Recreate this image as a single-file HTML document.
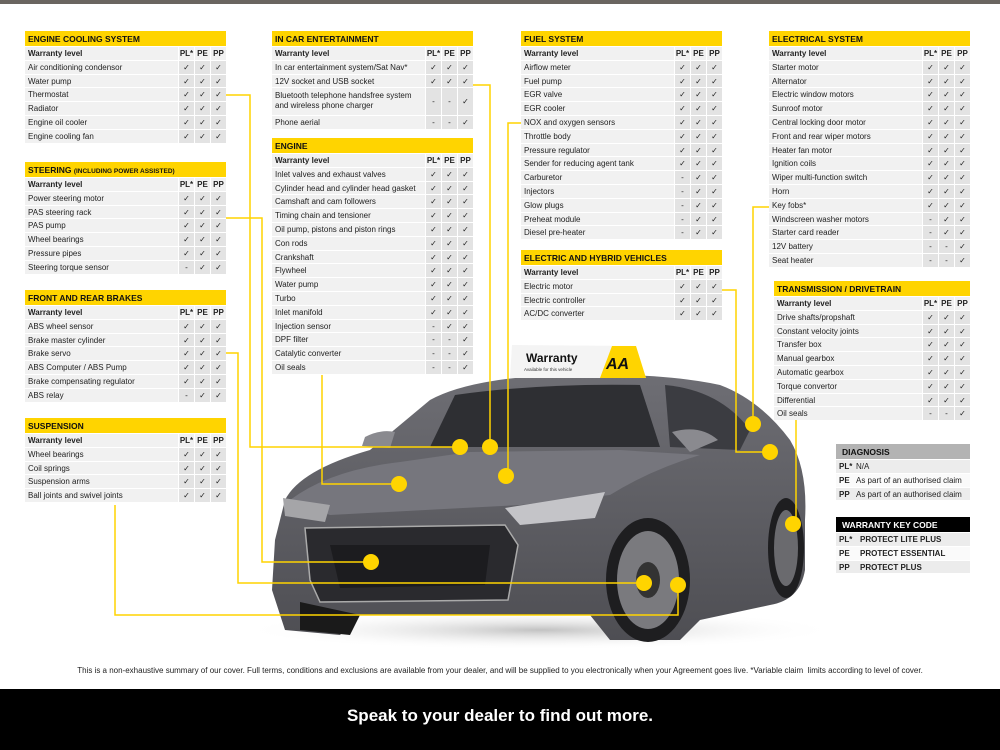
<!DOCTYPE html>
<html><head><meta charset="utf-8"><style>
body{margin:0;width:1000px;height:750px;background:#fff;position:relative;overflow:hidden;font-family:"Liberation Sans",sans-serif}
.t{position:absolute;width:201px;font-size:8px;color:#222}
.h{background:#ffd400;height:15px;font-weight:bold;font-size:8.5px;padding-left:3px;line-height:16px;color:#111}
.r{display:flex;height:12.8px;border-top:1px solid #fff;background:#f1f1f1;line-height:13px}
.r b{flex:1;padding-left:3px;font-weight:normal;white-space:nowrap;overflow:hidden}
.r i{width:15px;text-align:center;background:#e3e3e3;border-left:1px solid #fff;font-style:normal;font-size:8px}
.r.w b,.r.w i{font-weight:bold;background:#f1f1f1}
.r.d{height:26.6px}.r.d b{line-height:10px;padding-top:3px;white-space:normal}.r.d i{line-height:27px}
</style></head><body>
<div style="position:absolute;left:0;top:0;width:1000px;height:4px;background:#6a6560"></div>
<svg style="position:absolute;left:0;top:0" width="1000" height="750">
<defs><radialGradient id="sh" cx="0.5" cy="0.5" r="0.5"><stop offset="0" stop-color="#999" stop-opacity=".6"/><stop offset="1" stop-color="#fff" stop-opacity="0"/></radialGradient>
<linearGradient id="bd" x1="0" y1="0" x2="0" y2="1"><stop offset="0" stop-color="#6e6e74"/><stop offset="1" stop-color="#4e4e53"/></linearGradient></defs>
<ellipse cx="540" cy="630" rx="300" ry="20" fill="url(#sh)"/>
<path d="M285,500 Q300,470 370,450 L430,400 Q470,378 560,375 Q660,372 720,385 Q760,400 790,440 Q808,470 805,520 L805,570 Q800,600 770,605 L700,620 L680,640 L610,640 L590,615 L360,615 L340,635 L285,630 L272,590 L275,540 Z" fill="url(#bd)"/>
<path d="M290,500 Q330,470 400,462 L470,452 L620,450 L700,455 Q650,470 610,495 L520,505 L330,515 Z" fill="#76767d"/>
<path d="M430,447 L455,395 Q540,383 640,385 L660,447 Z" fill="#2e2f33"/>
<path d="M665,385 Q720,390 750,430 L740,450 L670,447Z" fill="#3b3c41"/>
<path d="M305,528 L505,525 L518,545 L508,600 L320,602 L310,580Z" fill="#2a2a2e" stroke="#aaa" stroke-width="1.5"/>
<path d="M330,545 L490,545 L485,585 L340,588Z" fill="#1c1c1f"/>
<path d="M505,508 L605,492 L595,518 L520,525Z" fill="#c4c4c8"/>
<path d="M283,498 L330,505 L325,522 L285,516Z" fill="#a5a5a8"/>
<path d="M365,437 Q380,429 395,432 L390,448 L362,446Z" fill="#8a8a8f"/>
<path d="M672,432 Q700,424 718,440 L690,452Z" fill="#8a8a8f"/>
<ellipse cx="648" cy="580" rx="42" ry="62" fill="#1e1e20"/><ellipse cx="648" cy="580" rx="31" ry="49" fill="#7a7a7e"/><ellipse cx="648" cy="580" rx="12" ry="18" fill="#333"/>
<ellipse cx="786" cy="548" rx="18" ry="50" fill="#1e1e20"/><ellipse cx="786" cy="548" rx="12" ry="38" fill="#6a6a6e"/>
<path d="M300,602 L360,615 L350,635 L300,630Z" fill="#1a1a1a"/>
<polygon points="512,345 636,346 646,378 510,378" fill="#f4f4f4"/>
<polygon points="612,346 636,346 646,378 600,378" fill="#ffd400"/>
<text x="526" y="362" font-size="12" font-weight="bold" fill="#111" font-family="Liberation Sans">Warranty</text>
<text x="524" y="371" font-size="4.5" fill="#333" font-family="Liberation Sans">Available for this vehicle</text>
<text x="606" y="369" font-size="16" font-weight="bold" font-style="italic" fill="#111" font-family="Liberation Sans">AA</text>
<g stroke="#ffd400" stroke-width="1.5" fill="none">
<polyline points="226,95 250,95 250,447 460,447"/>
<polyline points="226,218 262,218 262,562 371,562"/>
<polyline points="226,353 238,353 238,583 644,583"/>
<polyline points="115,505 115,615 678,615 678,585"/>
<polyline points="322,375 322,484 399,484"/>
<polyline points="473,85 490,85 490,447"/>
<polyline points="521,123 508,123 508,476"/>
<polyline points="722,290 736,290 736,452 770,452"/>
<polyline points="769,207 753,207 753,424"/>
<polyline points="796,420 796,530"/>
</g>
<g fill="#ffd400"><circle cx="460" cy="447" r="8"/><circle cx="490" cy="447" r="8"/><circle cx="399" cy="484" r="8"/><circle cx="506" cy="476" r="8"/><circle cx="753" cy="424" r="8"/><circle cx="770" cy="452" r="8"/><circle cx="793" cy="524" r="8"/><circle cx="371" cy="562" r="8"/><circle cx="644" cy="583" r="8"/><circle cx="678" cy="585" r="8"/></g>
</svg>

<div class="t" style="left:25px;top:31px"><div class="h">ENGINE COOLING SYSTEM</div>
<div class="r w"><b>Warranty level</b><i>PL*</i><i>PE</i><i>PP</i></div>
<div class="r"><b>Air conditioning condensor</b><i>✓</i><i>✓</i><i>✓</i></div>
<div class="r"><b>Water pump</b><i>✓</i><i>✓</i><i>✓</i></div>
<div class="r"><b>Thermostat</b><i>✓</i><i>✓</i><i>✓</i></div>
<div class="r"><b>Radiator</b><i>✓</i><i>✓</i><i>✓</i></div>
<div class="r"><b>Engine oil cooler</b><i>✓</i><i>✓</i><i>✓</i></div>
<div class="r"><b>Engine cooling fan</b><i>✓</i><i>✓</i><i>✓</i></div></div>

<div class="t" style="left:25px;top:162px"><div class="h">STEERING <span style="font-size:6.5px">(INCLUDING POWER ASSISTED)</span></div>
<div class="r w"><b>Warranty level</b><i>PL*</i><i>PE</i><i>PP</i></div>
<div class="r"><b>Power steering motor</b><i>✓</i><i>✓</i><i>✓</i></div>
<div class="r"><b>PAS steering rack</b><i>✓</i><i>✓</i><i>✓</i></div>
<div class="r"><b>PAS pump</b><i>✓</i><i>✓</i><i>✓</i></div>
<div class="r"><b>Wheel bearings</b><i>✓</i><i>✓</i><i>✓</i></div>
<div class="r"><b>Pressure pipes</b><i>✓</i><i>✓</i><i>✓</i></div>
<div class="r"><b>Steering torque sensor</b><i>-</i><i>✓</i><i>✓</i></div></div>

<div class="t" style="left:25px;top:290px"><div class="h">FRONT AND REAR BRAKES</div>
<div class="r w"><b>Warranty level</b><i>PL*</i><i>PE</i><i>PP</i></div>
<div class="r"><b>ABS wheel sensor</b><i>✓</i><i>✓</i><i>✓</i></div>
<div class="r"><b>Brake master cylinder</b><i>✓</i><i>✓</i><i>✓</i></div>
<div class="r"><b>Brake servo</b><i>✓</i><i>✓</i><i>✓</i></div>
<div class="r"><b>ABS Computer / ABS Pump</b><i>✓</i><i>✓</i><i>✓</i></div>
<div class="r"><b>Brake compensating regulator</b><i>✓</i><i>✓</i><i>✓</i></div>
<div class="r"><b>ABS relay</b><i>-</i><i>✓</i><i>✓</i></div></div>

<div class="t" style="left:25px;top:418px"><div class="h">SUSPENSION</div>
<div class="r w"><b>Warranty level</b><i>PL*</i><i>PE</i><i>PP</i></div>
<div class="r"><b>Wheel bearings</b><i>✓</i><i>✓</i><i>✓</i></div>
<div class="r"><b>Coil springs</b><i>✓</i><i>✓</i><i>✓</i></div>
<div class="r"><b>Suspension arms</b><i>✓</i><i>✓</i><i>✓</i></div>
<div class="r"><b>Ball joints and swivel joints</b><i>✓</i><i>✓</i><i>✓</i></div></div>

<div class="t" style="left:272px;top:31px"><div class="h">IN CAR ENTERTAINMENT</div>
<div class="r w"><b>Warranty level</b><i>PL*</i><i>PE</i><i>PP</i></div>
<div class="r"><b>In car entertainment system/Sat Nav*</b><i>✓</i><i>✓</i><i>✓</i></div>
<div class="r"><b>12V socket and USB socket</b><i>✓</i><i>✓</i><i>✓</i></div>
<div class="r d"><b>Bluetooth telephone handsfree system and wireless phone charger</b><i>-</i><i>-</i><i>✓</i></div>
<div class="r"><b>Phone aerial</b><i>-</i><i>-</i><i>✓</i></div></div>

<div class="t" style="left:272px;top:138px"><div class="h">ENGINE</div>
<div class="r w"><b>Warranty level</b><i>PL*</i><i>PE</i><i>PP</i></div>
<div class="r"><b>Inlet valves and exhaust valves</b><i>✓</i><i>✓</i><i>✓</i></div>
<div class="r"><b>Cylinder head and cylinder head gasket</b><i>✓</i><i>✓</i><i>✓</i></div>
<div class="r"><b>Camshaft and cam followers</b><i>✓</i><i>✓</i><i>✓</i></div>
<div class="r"><b>Timing chain and tensioner</b><i>✓</i><i>✓</i><i>✓</i></div>
<div class="r"><b>Oil pump, pistons and piston rings</b><i>✓</i><i>✓</i><i>✓</i></div>
<div class="r"><b>Con rods</b><i>✓</i><i>✓</i><i>✓</i></div>
<div class="r"><b>Crankshaft</b><i>✓</i><i>✓</i><i>✓</i></div>
<div class="r"><b>Flywheel</b><i>✓</i><i>✓</i><i>✓</i></div>
<div class="r"><b>Water pump</b><i>✓</i><i>✓</i><i>✓</i></div>
<div class="r"><b>Turbo</b><i>✓</i><i>✓</i><i>✓</i></div>
<div class="r"><b>Inlet manifold</b><i>✓</i><i>✓</i><i>✓</i></div>
<div class="r"><b>Injection sensor</b><i>-</i><i>✓</i><i>✓</i></div>
<div class="r"><b>DPF filter</b><i>-</i><i>-</i><i>✓</i></div>
<div class="r"><b>Catalytic converter</b><i>-</i><i>-</i><i>✓</i></div>
<div class="r"><b>Oil seals</b><i>-</i><i>-</i><i>✓</i></div></div>

<div class="t" style="left:521px;top:31px"><div class="h">FUEL SYSTEM</div>
<div class="r w"><b>Warranty level</b><i>PL*</i><i>PE</i><i>PP</i></div>
<div class="r"><b>Airflow meter</b><i>✓</i><i>✓</i><i>✓</i></div>
<div class="r"><b>Fuel pump</b><i>✓</i><i>✓</i><i>✓</i></div>
<div class="r"><b>EGR valve</b><i>✓</i><i>✓</i><i>✓</i></div>
<div class="r"><b>EGR cooler</b><i>✓</i><i>✓</i><i>✓</i></div>
<div class="r"><b>NOX and oxygen sensors</b><i>✓</i><i>✓</i><i>✓</i></div>
<div class="r"><b>Throttle body</b><i>✓</i><i>✓</i><i>✓</i></div>
<div class="r"><b>Pressure regulator</b><i>✓</i><i>✓</i><i>✓</i></div>
<div class="r"><b>Sender for reducing agent tank</b><i>✓</i><i>✓</i><i>✓</i></div>
<div class="r"><b>Carburetor</b><i>-</i><i>✓</i><i>✓</i></div>
<div class="r"><b>Injectors</b><i>-</i><i>✓</i><i>✓</i></div>
<div class="r"><b>Glow plugs</b><i>-</i><i>✓</i><i>✓</i></div>
<div class="r"><b>Preheat module</b><i>-</i><i>✓</i><i>✓</i></div>
<div class="r"><b>Diesel pre-heater</b><i>-</i><i>✓</i><i>✓</i></div></div>

<div class="t" style="left:521px;top:250px"><div class="h">ELECTRIC AND HYBRID VEHICLES</div>
<div class="r w"><b>Warranty level</b><i>PL*</i><i>PE</i><i>PP</i></div>
<div class="r"><b>Electric motor</b><i>✓</i><i>✓</i><i>✓</i></div>
<div class="r"><b>Electric controller</b><i>✓</i><i>✓</i><i>✓</i></div>
<div class="r"><b>AC/DC converter</b><i>✓</i><i>✓</i><i>✓</i></div></div>

<div class="t" style="left:769px;top:31px"><div class="h">ELECTRICAL SYSTEM</div>
<div class="r w"><b>Warranty level</b><i>PL*</i><i>PE</i><i>PP</i></div>
<div class="r"><b>Starter motor</b><i>✓</i><i>✓</i><i>✓</i></div>
<div class="r"><b>Alternator</b><i>✓</i><i>✓</i><i>✓</i></div>
<div class="r"><b>Electric window motors</b><i>✓</i><i>✓</i><i>✓</i></div>
<div class="r"><b>Sunroof motor</b><i>✓</i><i>✓</i><i>✓</i></div>
<div class="r"><b>Central locking door motor</b><i>✓</i><i>✓</i><i>✓</i></div>
<div class="r"><b>Front and rear wiper motors</b><i>✓</i><i>✓</i><i>✓</i></div>
<div class="r"><b>Heater fan motor</b><i>✓</i><i>✓</i><i>✓</i></div>
<div class="r"><b>Ignition coils</b><i>✓</i><i>✓</i><i>✓</i></div>
<div class="r"><b>Wiper multi-function switch</b><i>✓</i><i>✓</i><i>✓</i></div>
<div class="r"><b>Horn</b><i>✓</i><i>✓</i><i>✓</i></div>
<div class="r"><b>Key fobs*</b><i>✓</i><i>✓</i><i>✓</i></div>
<div class="r"><b>Windscreen washer motors</b><i>-</i><i>✓</i><i>✓</i></div>
<div class="r"><b>Starter card reader</b><i>-</i><i>✓</i><i>✓</i></div>
<div class="r"><b>12V battery</b><i>-</i><i>-</i><i>✓</i></div>
<div class="r"><b>Seat heater</b><i>-</i><i>-</i><i>✓</i></div></div>

<div class="t" style="left:774px;top:281px;width:196px"><div class="h">TRANSMISSION / DRIVETRAIN</div>
<div class="r w"><b>Warranty level</b><i>PL*</i><i>PE</i><i>PP</i></div>
<div class="r"><b>Drive shafts/propshaft</b><i>✓</i><i>✓</i><i>✓</i></div>
<div class="r"><b>Constant velocity joints</b><i>✓</i><i>✓</i><i>✓</i></div>
<div class="r"><b>Transfer box</b><i>✓</i><i>✓</i><i>✓</i></div>
<div class="r"><b>Manual gearbox</b><i>✓</i><i>✓</i><i>✓</i></div>
<div class="r"><b>Automatic gearbox</b><i>✓</i><i>✓</i><i>✓</i></div>
<div class="r"><b>Torque convertor</b><i>✓</i><i>✓</i><i>✓</i></div>
<div class="r"><b>Differential</b><i>✓</i><i>✓</i><i>✓</i></div>
<div class="r"><b>Oil seals</b><i>-</i><i>-</i><i>✓</i></div></div>

<div class="t" style="left:836px;top:444px;width:134px">
<div class="h" style="background:#b3b3b3;padding-left:6px">DIAGNOSIS</div>
<div class="r" style="background:#ececec"><b style="flex:0 0 14px;font-weight:bold">PL*</b><b>N/A</b></div>
<div class="r" style="background:#fafafa"><b style="flex:0 0 14px;font-weight:bold">PE</b><b>As part of an authorised claim</b></div>
<div class="r" style="background:#ececec"><b style="flex:0 0 14px;font-weight:bold">PP</b><b>As part of an authorised claim</b></div></div>

<div class="t" style="left:836px;top:517px;width:134px">
<div class="h" style="background:#000;color:#fff;padding-left:6px">WARRANTY KEY CODE</div>
<div class="r" style="background:#ececec;font-weight:bold"><b style="flex:0 0 18px;font-weight:bold">PL*</b><b style="font-weight:bold">PROTECT LITE PLUS</b></div>
<div class="r" style="background:#fafafa"><b style="flex:0 0 18px;font-weight:bold">PE</b><b style="font-weight:bold">PROTECT ESSENTIAL</b></div>
<div class="r" style="background:#ececec"><b style="flex:0 0 18px;font-weight:bold">PP</b><b style="font-weight:bold">PROTECT PLUS</b></div></div>

<div style="position:absolute;left:0;top:666px;width:1000px;text-align:center;font-size:8px;color:#222">This is a non-exhaustive summary of our cover. Full terms, conditions and exclusions are available from your dealer, and will be supplied to you electronically when your Agreement goes live. *Variable claim&nbsp; limits according to level of cover.</div>
<div style="position:absolute;left:0;top:689px;width:1000px;height:61px;background:#000;color:#fff;text-align:center;font-weight:bold;font-size:17px;line-height:54px">Speak to your dealer to find out more.</div>
</body></html>
